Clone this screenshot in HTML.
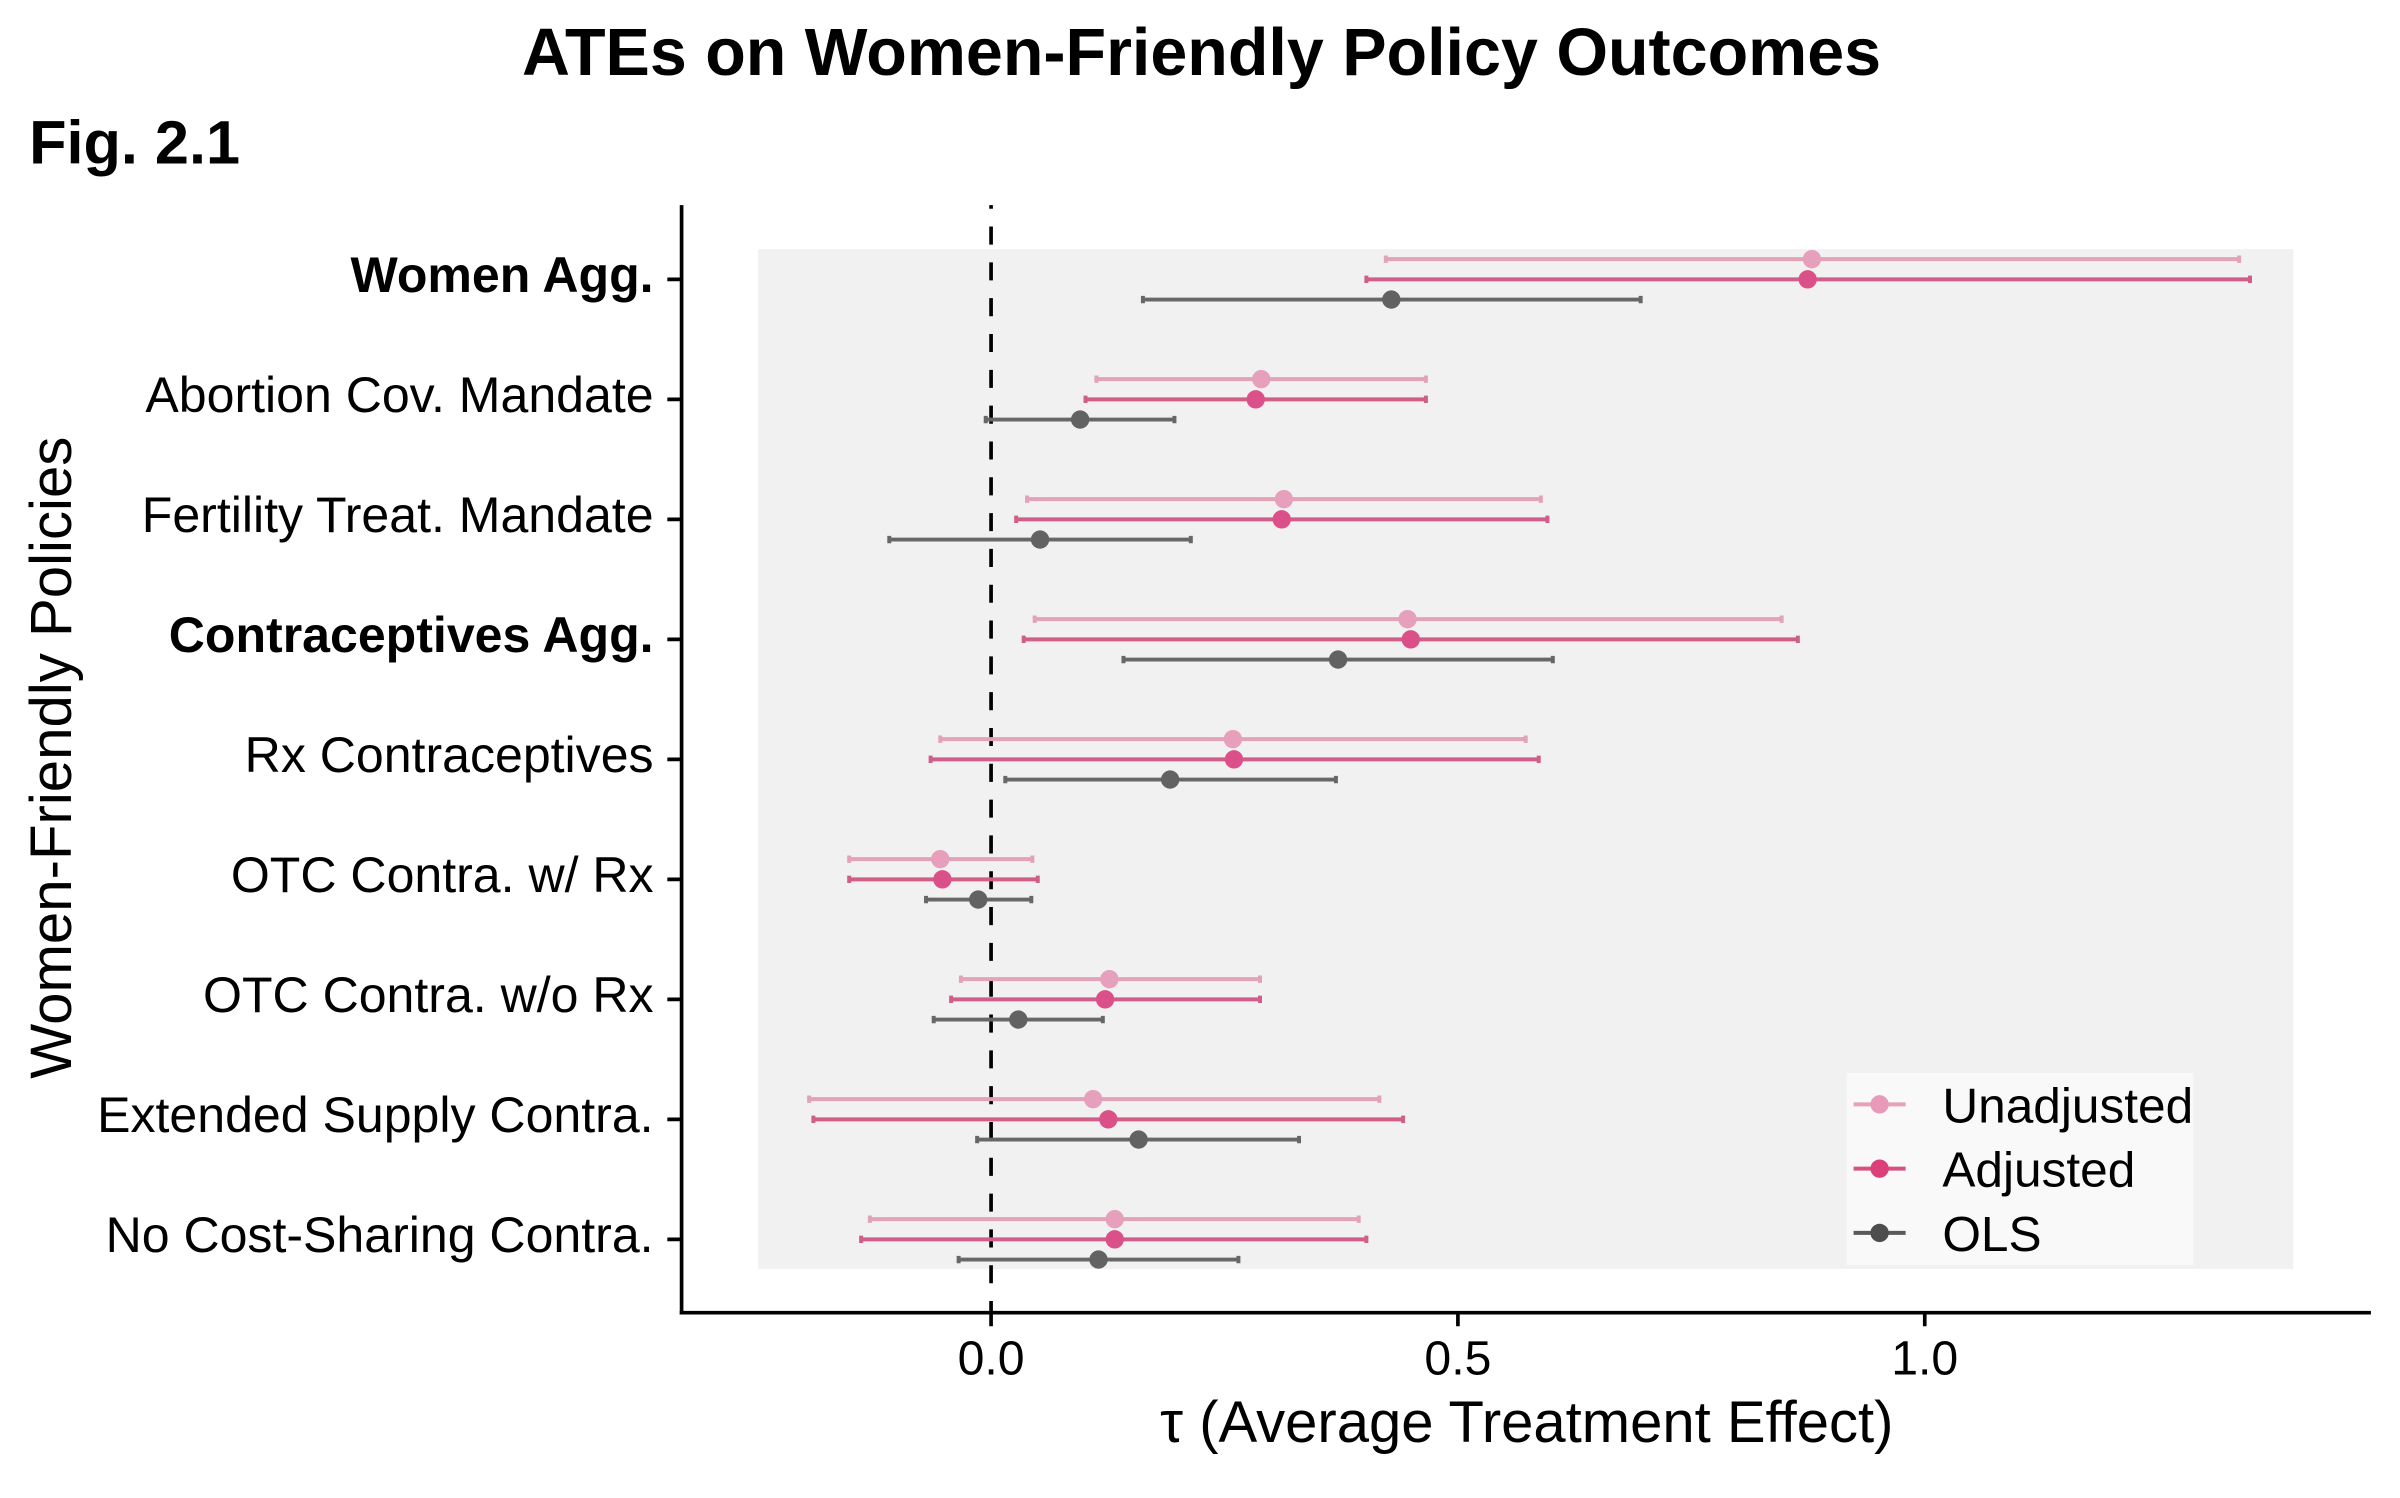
<!DOCTYPE html>
<html>
<head>
<meta charset="utf-8">
<style>
html,body{margin:0;padding:0;background:#ffffff;}
svg{display:block;}
text{font-family:"Liberation Sans", Arial, Helvetica, sans-serif;fill:#000;}
</style>
</head>
<body>
<svg xmlns="http://www.w3.org/2000/svg" width="2400" height="1498" viewBox="0 0 1568 978.67">
<defs>
<clipPath id="pc"><rect x="445" y="134" width="1110" height="724"/></clipPath>
</defs>
<rect x="0" y="0" width="1568" height="978.67" fill="#ffffff"/>

<!-- titles -->
<text x="785" y="49" font-size="43.4" font-weight="bold" text-anchor="middle">ATEs on Women-Friendly Policy Outcomes</text>
<text x="19" y="106.7" font-size="40" font-weight="bold">Fig. 2.1</text>

<!-- panel background -->
<rect x="495.3" y="162.7" width="1003" height="666.3" fill="#f1f1f1"/>

<!-- dashed zero line -->
<g clip-path="url(#pc)">
<line x1="647.5" y1="124.6" x2="647.5" y2="857.6" stroke="#000" stroke-width="2.4" stroke-dasharray="11.8 11.6"/>
</g>

<!-- series -->
<g stroke-width="2.6" fill="none">
<!-- Row 0 y=182.5 -->
<g stroke="#e2a3b8"><path d="M905.4 169.3H1462.9M905.4 166.9V171.7M1462.9 166.9V171.7"/></g>
<g stroke="#cf5f88"><path d="M892.7 182.5H1470M892.7 180.1V184.9M1470 180.1V184.9"/></g>
<g stroke="#676767"><path d="M746.7 195.7H1071.9M746.7 193.3V198.1M1071.9 193.3V198.1"/></g>
<!-- Row 1 y=260.9 -->
<g stroke="#e2a3b8"><path d="M716.3 247.7H931.6M716.3 245.3V250.1M931.6 245.3V250.1"/></g>
<g stroke="#cf5f88"><path d="M709.2 260.9H931.6M709.2 258.5V263.3M931.6 258.5V263.3"/></g>
<g stroke="#676767"><path d="M644 274.1H767.3M644 271.7V276.5M767.3 271.7V276.5"/></g>
<!-- Row 2 y=339.3 -->
<g stroke="#e2a3b8"><path d="M671 326.1H1006.7M671 323.7V328.5M1006.7 323.7V328.5"/></g>
<g stroke="#cf5f88"><path d="M663.9 339.3H1011M663.9 336.9V341.7M1011 336.9V341.7"/></g>
<g stroke="#676767"><path d="M581 352.5H778M581 350.1V354.9M778 350.1V354.9"/></g>
<!-- Row 3 y=417.7 -->
<g stroke="#e2a3b8"><path d="M676 404.5H1164M676 402.1V406.9M1164 402.1V406.9"/></g>
<g stroke="#cf5f88"><path d="M668.8 417.7H1174.6M668.8 415.3V420.1M1174.6 415.3V420.1"/></g>
<g stroke="#676767"><path d="M734 430.9H1014.5M734 428.5V433.3M1014.5 428.5V433.3"/></g>
<!-- Row 4 y=496.1 -->
<g stroke="#e2a3b8"><path d="M614.3 482.9H996.8M614.3 480.5V485.3M996.8 480.5V485.3"/></g>
<g stroke="#cf5f88"><path d="M608 496.1H1005.3M608 493.7V498.5M1005.3 493.7V498.5"/></g>
<g stroke="#676767"><path d="M656.8 509.3H872.8M656.8 506.9V511.7M872.8 506.9V511.7"/></g>
<!-- Row 5 y=574.5 -->
<g stroke="#e2a3b8"><path d="M554.8 561.3H674.5M554.8 558.9V563.7M674.5 558.9V563.7"/></g>
<g stroke="#cf5f88"><path d="M554.8 574.5H678M554.8 572.1V576.9M678 572.1V576.9"/></g>
<g stroke="#676767"><path d="M605 587.7H673.8M605 585.3V590.1M673.8 585.3V590.1"/></g>
<!-- Row 6 y=652.9 -->
<g stroke="#e2a3b8"><path d="M627.8 639.7H823.2M627.8 637.3V642.1M823.2 637.3V642.1"/></g>
<g stroke="#cf5f88"><path d="M621.4 652.9H823.2M621.4 650.5V655.3M823.2 650.5V655.3"/></g>
<g stroke="#676767"><path d="M610 666.1H720.5M610 663.7V668.5M720.5 663.7V668.5"/></g>
<!-- Row 7 y=731.3 -->
<g stroke="#e2a3b8"><path d="M528.6 718.1H901.2M528.6 715.7V720.5M901.2 715.7V720.5"/></g>
<g stroke="#cf5f88"><path d="M531.4 731.3H916.7M531.4 728.9V733.7M916.7 728.9V733.7"/></g>
<g stroke="#676767"><path d="M638.4 744.5H848.7M638.4 742.1V746.9M848.7 742.1V746.9"/></g>
<!-- Row 8 y=809.7 -->
<g stroke="#e2a3b8"><path d="M568.3 796.5H887.7M568.3 794.1V798.9M887.7 794.1V798.9"/></g>
<g stroke="#cf5f88"><path d="M562.6 809.7H892.7M562.6 807.3V812.1M892.7 807.3V812.1"/></g>
<g stroke="#676767"><path d="M626.3 822.9H809.1M626.3 820.5V825.3M809.1 820.5V825.3"/></g>
</g>

<!-- points -->
<g fill="#e6a0bb">
<circle cx="1183.8" cy="169.3" r="6"/>
<circle cx="824" cy="247.7" r="6"/>
<circle cx="838.8" cy="326.1" r="6"/>
<circle cx="919.6" cy="404.5" r="6"/>
<circle cx="805.5" cy="482.9" r="6"/>
<circle cx="614.3" cy="561.3" r="6"/>
<circle cx="724.8" cy="639.7" r="6"/>
<circle cx="714.2" cy="718.1" r="6"/>
<circle cx="728.3" cy="796.5" r="6"/>
</g>
<g fill="#db5088">
<circle cx="1181" cy="182.5" r="6"/>
<circle cx="820.4" cy="260.9" r="6"/>
<circle cx="837.4" cy="339.3" r="6"/>
<circle cx="921.7" cy="417.7" r="6"/>
<circle cx="806.2" cy="496.1" r="6"/>
<circle cx="615.7" cy="574.5" r="6"/>
<circle cx="722" cy="652.9" r="6"/>
<circle cx="724.1" cy="731.3" r="6"/>
<circle cx="728.3" cy="809.7" r="6"/>
</g>
<g fill="#626262">
<circle cx="909" cy="195.7" r="6"/>
<circle cx="705.7" cy="274.1" r="6"/>
<circle cx="679.5" cy="352.5" r="6"/>
<circle cx="874.2" cy="430.9" r="6"/>
<circle cx="764.5" cy="509.3" r="6"/>
<circle cx="639.1" cy="587.7" r="6"/>
<circle cx="665.3" cy="666.1" r="6"/>
<circle cx="743.9" cy="744.5" r="6"/>
<circle cx="717.7" cy="822.9" r="6"/>
</g>

<!-- legend -->
<rect x="1206.5" y="701" width="226.5" height="125.5" fill="#f9f9f9"/>
<line x1="1211" y1="721.5" x2="1245" y2="721.5" stroke="#e8a0bb" stroke-width="2.6"/>
<circle cx="1228" cy="721.5" r="6" fill="#e89ab8"/>
<line x1="1211" y1="763.5" x2="1245" y2="763.5" stroke="#d4547f" stroke-width="2.6"/>
<circle cx="1228" cy="763.5" r="6" fill="#dd3f7a"/>
<line x1="1211" y1="805.5" x2="1245" y2="805.5" stroke="#5a5a5a" stroke-width="2.6"/>
<circle cx="1228" cy="805.5" r="6" fill="#4d4d4d"/>
<text x="1269" y="733.3" font-size="32.4">Unadjusted</text>
<text x="1269" y="775.3" font-size="32.4">Adjusted</text>
<text x="1269" y="817.3" font-size="32.4">OLS</text>

<!-- axes -->
<g stroke="#000" stroke-width="2.4" fill="none">
<line x1="445.3" y1="134" x2="445.3" y2="858.8"/>
<line x1="444.1" y1="857.6" x2="1549" y2="857.6"/>
<path d="M436 182.5H445.3M436 260.9H445.3M436 339.3H445.3M436 417.7H445.3M436 496.1H445.3M436 574.5H445.3M436 652.9H445.3M436 731.3H445.3M436 809.7H445.3"/>
<path d="M647.5 857.6V866.5M952.5 857.6V866.5M1257.5 857.6V866.5"/>
</g>

<!-- y tick labels -->
<g font-size="32.7" text-anchor="end">
<text x="427" y="190.8" font-weight="bold">Women Agg.</text>
<text x="427" y="269.2">Abortion Cov. Mandate</text>
<text x="427" y="347.6">Fertility Treat. Mandate</text>
<text x="427" y="426" font-weight="bold">Contraceptives Agg.</text>
<text x="427" y="504.4">Rx Contraceptives</text>
<text x="427" y="582.8">OTC Contra. w/ Rx</text>
<text x="427" y="661.2">OTC Contra. w/o Rx</text>
<text x="427" y="739.6">Extended Supply Contra.</text>
<text x="427" y="818">No Cost-Sharing Contra.</text>
</g>

<!-- x tick labels -->
<g font-size="31.5" text-anchor="middle">
<text x="647.5" y="898">0.0</text>
<text x="952.5" y="898">0.5</text>
<text x="1257.5" y="898">1.0</text>
</g>

<!-- axis titles -->
<text x="997.5" y="942" font-size="37.9" text-anchor="middle">τ (Average Treatment Effect)</text>
<text transform="translate(46.5,495) rotate(-90)" font-size="38" text-anchor="middle">Women-Friendly Policies</text>
</svg>
</body>
</html>
